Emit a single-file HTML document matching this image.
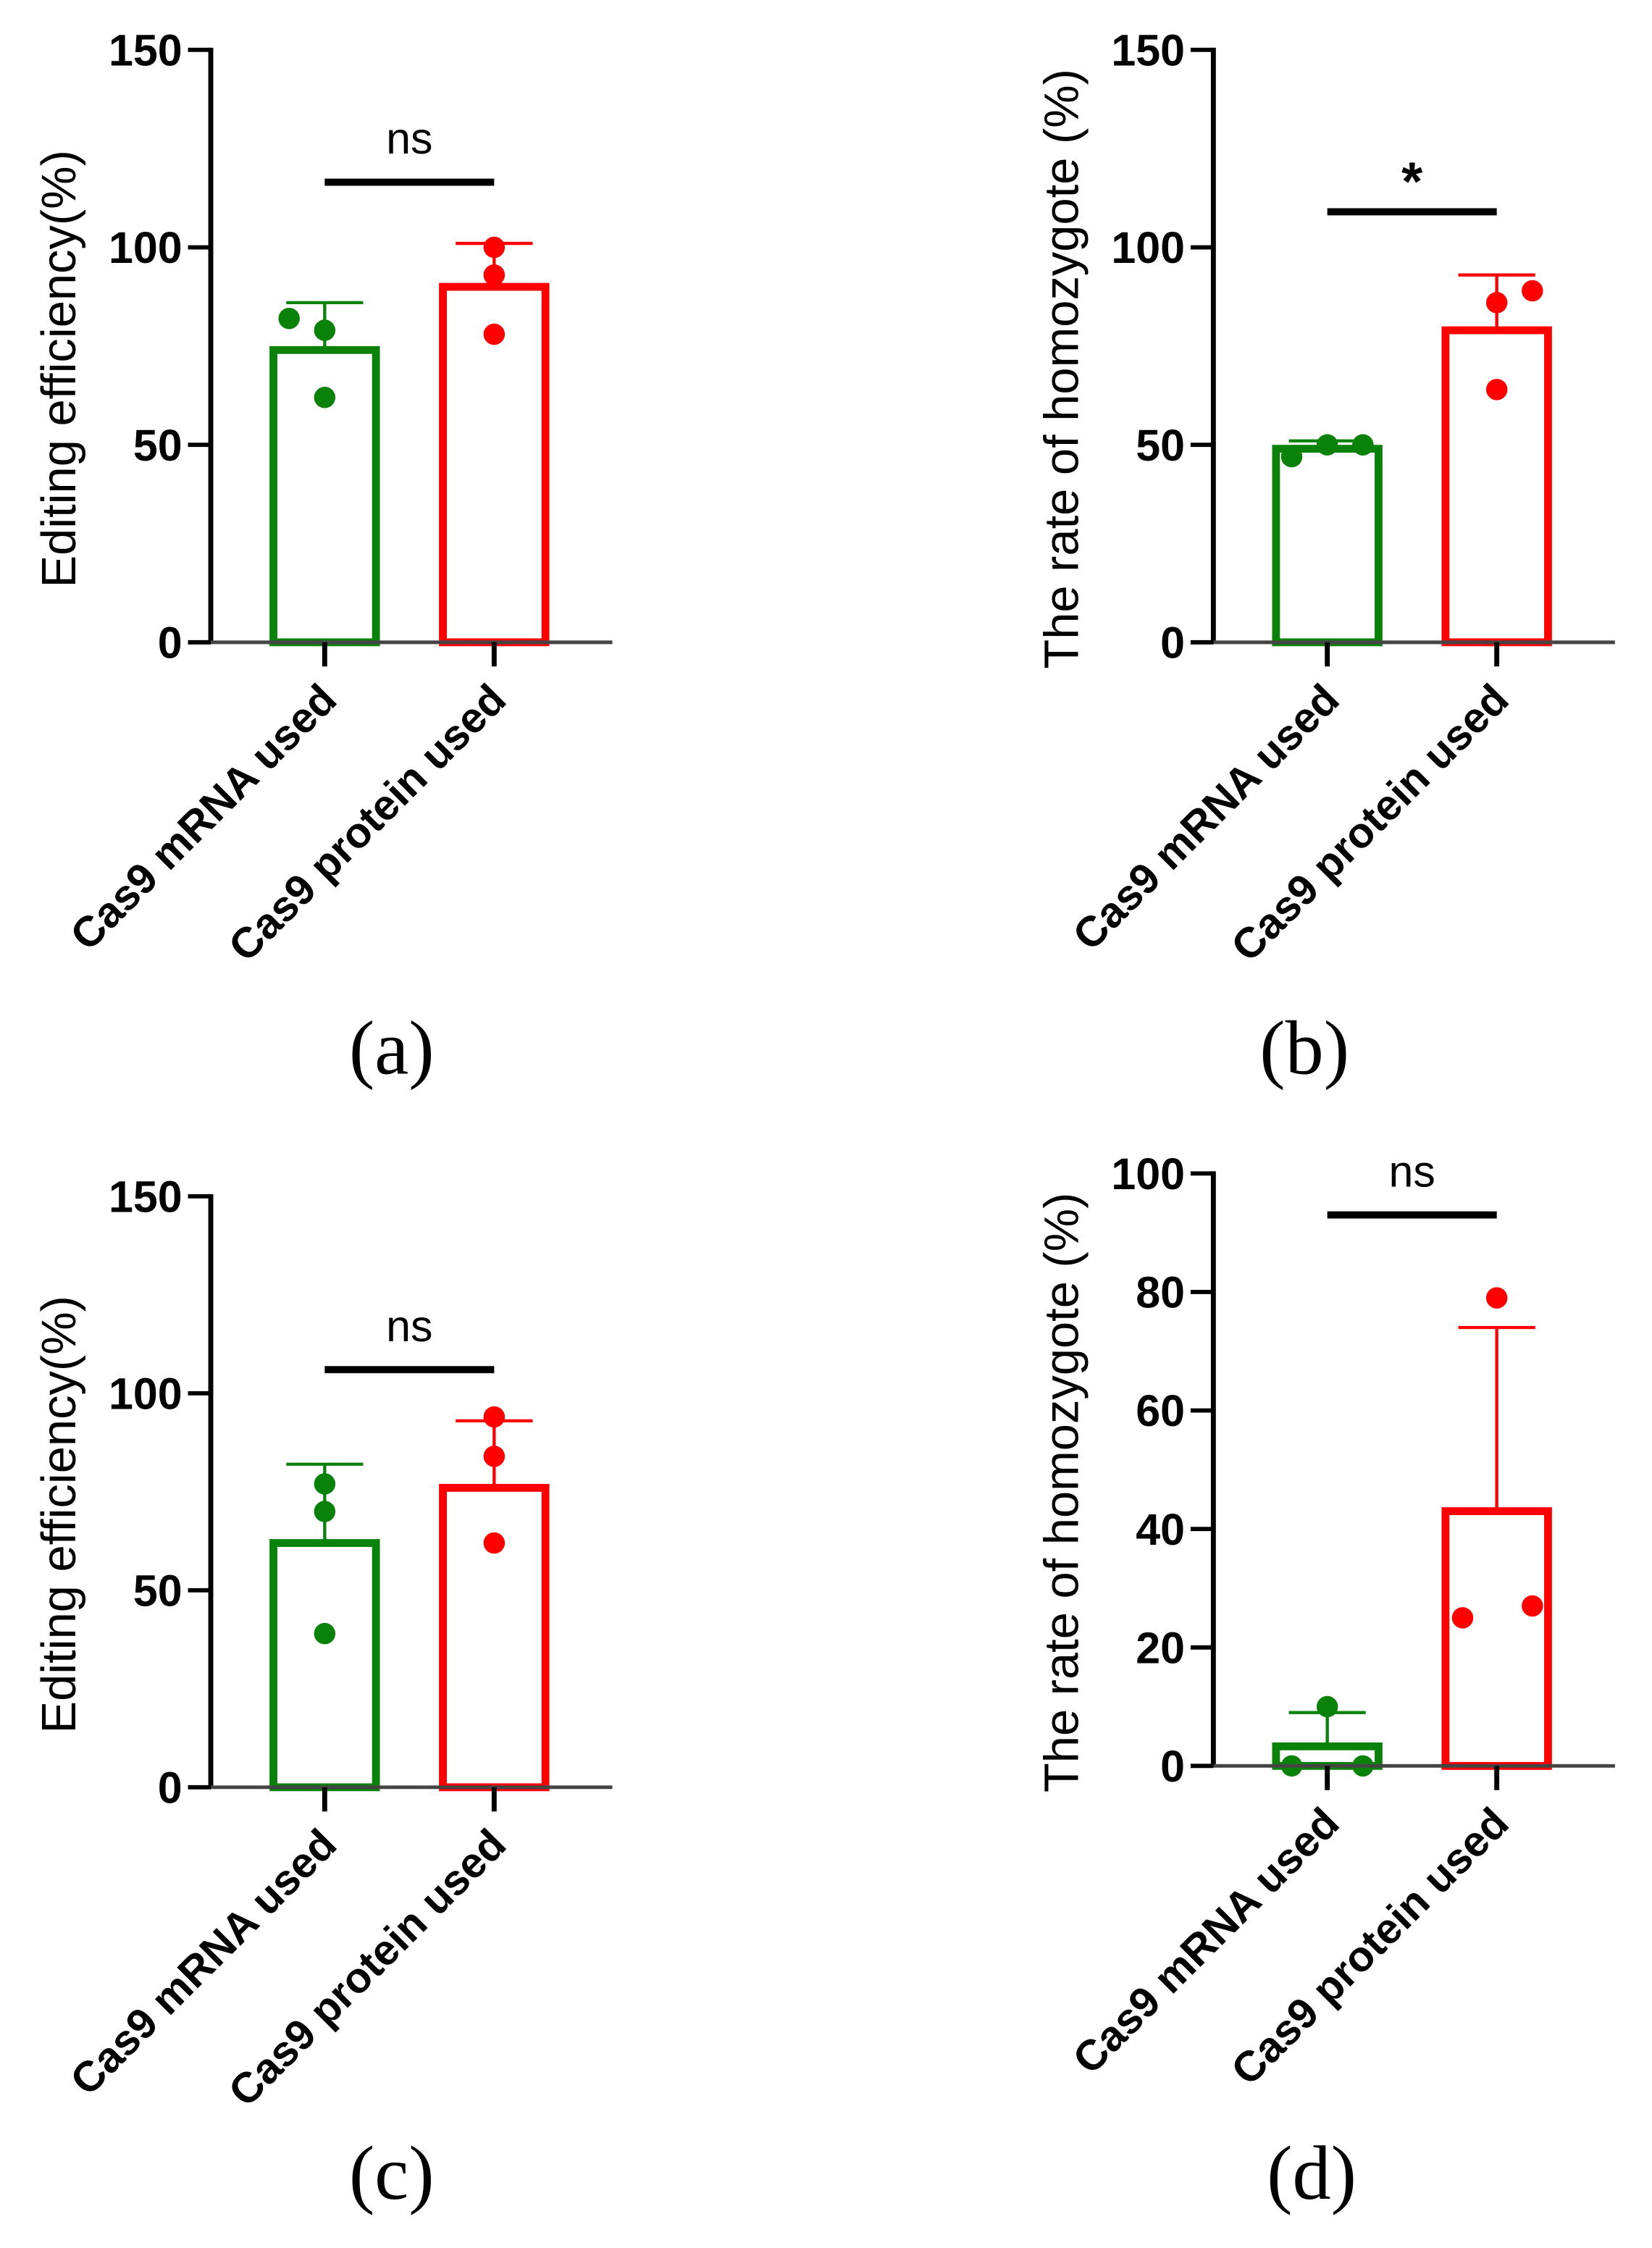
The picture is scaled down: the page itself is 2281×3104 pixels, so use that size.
<!DOCTYPE html>
<html><head><meta charset="utf-8"><style>
html,body{margin:0;padding:0;background:#fff;}
svg{display:block;}
</style></head><body>
<svg id="fig" width="2281" height="3104" viewBox="0 0 1160 1578.5" xmlns="http://www.w3.org/2000/svg"></svg>
<script>
const categories = ["Cas9 mRNA used", "Cas9 protein used"];
const meansA = [74, 90];
const errA = [86, 101];
const dotsA = [[82, 79, 62], [100, 93, 78]];
const meansB = [49, 79];
const errB = [51, 93];
const dotsB = [[47, 50, 50], [86, 89, 64]];
const meansC = [62, 76];
const errC = [82, 93];
const dotsC = [[77, 70, 39], [94, 84, 62]];
const meansD = [3.3, 43];
const errD = [9, 74];
const dotsD = [[0, 10, 0], [79, 25, 27]];
const ticksABC = [0, 50, 100, 150];
const ticksD = [0, 20, 40, 60, 80, 100];
const sigLabels = ["ns", "*", "ns", "ns"];
const sigValues = [116.5, 109, 106, 93];

const NS = "http://www.w3.org/2000/svg";
const svg = document.getElementById('fig');
const colors = ["#0a820a", "#ff0000"];
function mk(tag, attrs, parent){
  const e = document.createElementNS(NS, tag);
  for (const k in attrs) e.setAttribute(k, attrs[k]);
  (parent||svg).appendChild(e); return e;
}
const dotOffsets = [[[-25,0,0],[0,0,0]],[[-25,0,25],[0,25,0]],[[0,0,0],[0,0,0]],[[-25,0,25],[0,-24,25]]];
const panels = [
  {ax:148, top:35, bottom:451, max:150, ticks:ticksABC, means:meansA, err:errA, dots:dotsA, label:"Editing efficiency(%)", cap:"(a)", capX:275, capY:754},
  {ax:852, top:35, bottom:451, max:150, ticks:ticksABC, means:meansB, err:errB, dots:dotsB, label:"The rate of homozygote (%)", cap:"(b)", capX:916, capY:754},
  {ax:148, top:840, bottom:1255, max:150, ticks:ticksABC, means:meansC, err:errC, dots:dotsC, label:"Editing efficiency(%)", cap:"(c)", capX:275, capY:1544},
  {ax:852, top:824, bottom:1240, max:100, ticks:ticksD, means:meansD, err:errD, dots:dotsD, label:"The rate of homozygote (%)", cap:"(d)", capX:921, capY:1544}
];
panels.forEach((p, pi) => {
  const g = mk('g', {});
  
  
  const y = v => p.bottom - (v / p.max) * (p.bottom - p.top);
  const xc = i => p.ax + 80 + i * 119;
  p.means.forEach((m, i) => {
    const b = mk('rect', {x: xc(i)-36, y: y(m), width: 72, height: p.bottom - y(m), fill: 'none', stroke: colors[i], 'stroke-width': 5.5}, g);
    
    
    const e = mk('g', {stroke: colors[i], 'stroke-width': 2.2}, g);
    
    
    mk('line', {x1: xc(i), x2: xc(i), y1: y(m), y2: y(p.err[i])}, e);
    mk('line', {x1: xc(i)-27, x2: xc(i)+27, y1: y(p.err[i]), y2: y(p.err[i])}, e);
    p.dots[i].forEach((d, j) => {
      const c = mk('circle', {cx: xc(i) + dotOffsets[pi][i][j], cy: y(d), r: 7.5, fill: colors[i]}, g);
      
      
    });
  });
  const ya = mk('line', {x1: p.ax, x2: p.ax, y1: p.top-1.5, y2: p.bottom, stroke: '#000', 'stroke-width': 3.5}, g);
  
  
  const xa = mk('line', {x1: p.ax-8, x2: p.ax+282, y1: p.bottom, y2: p.bottom, stroke: '#444', 'stroke-width': 2.5}, g);
  
  
  p.ticks.forEach(t => {
    mk('line', {x1: p.ax-16, x2: p.ax, y1: y(t), y2: y(t), stroke: '#000', 'stroke-width': 3}, g);
    const tl = mk('text', {x: p.ax-20, y: y(t)+11, 'text-anchor': 'end', 'font-family': 'Liberation Sans, sans-serif', 'font-weight': 'bold', 'font-size': 31}, g);
    tl.textContent = t;
    
    
  });
  categories.forEach((c, i) => {
    mk('line', {x1: xc(i), x2: xc(i), y1: p.bottom, y2: p.bottom+17, stroke: '#000', 'stroke-width': 3.5}, g);
    const tx = xc(i)+10, ty = p.bottom+42;
    const xl = mk('text', {x: tx, y: ty, 'text-anchor': 'end', transform: `rotate(-45 ${tx} ${ty})`, 'font-family': 'Liberation Sans, sans-serif', 'font-weight': 'bold', 'font-size': 30}, g);
    xl.textContent = c;
    
    
  });
  const lx = p.ax - 95, ly = (p.top + p.bottom)/2 + 16;
  const yl = mk('text', {x: lx, y: ly, 'text-anchor': 'middle', transform: `rotate(-90 ${lx} ${ly})`, 'font-family': 'Liberation Sans, sans-serif', 'font-size': 34}, g);
  yl.textContent = p.label;
  
  
  const sy = y(sigValues[pi]);
  const sl = mk('line', {x1: xc(0), x2: xc(1), y1: sy, y2: sy, stroke: '#000', 'stroke-width': 5}, g);
  
  
  const st = mk('text', {x: (xc(0)+xc(1))/2, y: sigLabels[pi] === '*' ? sy-8 : sy-20, 'text-anchor': 'middle', 'font-family': 'Liberation Sans, sans-serif', 'font-size': sigLabels[pi] === '*' ? 38 : 31, 'font-weight': sigLabels[pi] === '*' ? 'bold' : 'normal'}, g);
  st.textContent = sigLabels[pi];
  
  
  const cp = mk('text', {x: p.capX, y: p.capY, 'text-anchor': 'middle', 'font-family': 'Liberation Serif, serif', 'font-size': 54}, g);
  cp.textContent = p.cap;
  
  
});
</script>
</body></html>
